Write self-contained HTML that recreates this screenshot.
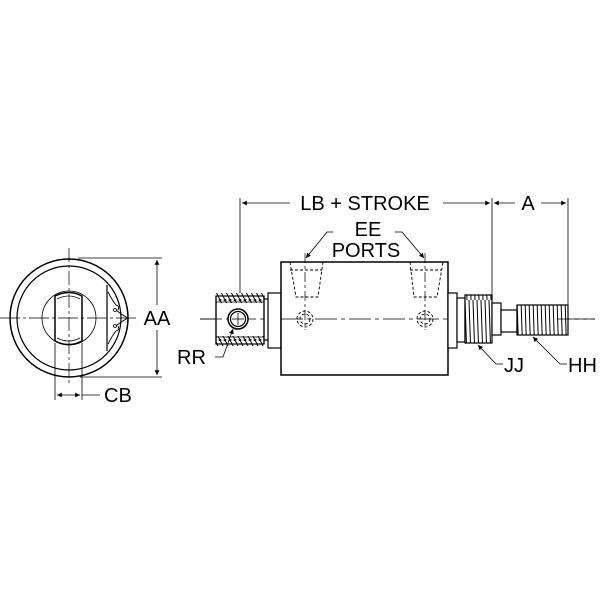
<!DOCTYPE html>
<html><head><meta charset="utf-8"><style>
html,body{margin:0;padding:0;background:#fff;width:600px;height:600px;overflow:hidden}
text{font-family:"Liberation Sans",Arial,sans-serif;fill:#000}
</style></head><body>
<svg width="600" height="600" viewBox="0 0 600 600" xmlns="http://www.w3.org/2000/svg">
<defs>
<pattern id="vth" width="4" height="60" patternUnits="userSpaceOnUse">
<line x1="1" y1="0" x2="3" y2="60" stroke="#000" stroke-width="1"/>
</pattern>
<pattern id="hth" width="5" height="10" patternUnits="userSpaceOnUse">
<line x1="0.5" y1="1" x2="4.5" y2="9" stroke="#000" stroke-width="0.9"/>
<path d="M0,1 Q2.5,-2 5,1 M0,9 Q2.5,12 5,9" fill="none" stroke="#000" stroke-width="0.9"/>
</pattern>
<marker id="ar" viewBox="0 0 10 10" refX="10" refY="5" markerWidth="8" markerHeight="6" orient="auto-start-reverse">
<path d="M0,0 L10,5 L0,10 z" fill="#000"/></marker>
</defs>
<g fill="none" stroke="#000" stroke-width="1.2">
<!-- END VIEW -->
<circle cx="69" cy="318" r="59" stroke-width="1.5"/>
<circle cx="69" cy="318" r="52"/>
<circle cx="69" cy="318" r="27" stroke-width="0.8"/>
<path d="M55,296 Q69,289 82,296 L82,341 Q69,348 55,341 Z" stroke-width="1.5"/>
<path d="M57,299 Q69,293 80,299 M57,338 Q69,344 80,338" stroke-width="0.8"/>
<path d="M107,285 L107,351" />
<path d="M108,292 Q112,300 116,305 Q120,306 118,310 M108,344 Q112,336 116,331 Q120,330 118,326 M116,310 Q122,315 128,318 M116,326 Q122,321 128,318" stroke-width="0.9"/>
<circle cx="115" cy="310" r="1.5" stroke-width="0.8"/><circle cx="115" cy="326" r="1.5" stroke-width="0.8"/>
<line x1="69" y1="248" x2="69" y2="385" stroke-width="0.7" stroke-dasharray="14,3,3,3"/>
<line x1="0" y1="318" x2="138" y2="318" stroke-width="0.7" stroke-dasharray="20,3,3,3"/>
<line x1="78" y1="258" x2="162" y2="258" stroke-width="0.8"/>
<line x1="80" y1="377" x2="162" y2="377" stroke-width="0.8"/>
<line x1="157" y1="260" x2="157" y2="305" stroke-width="0.8" marker-start="url(#ar)"/>
<line x1="157" y1="330" x2="157" y2="375" stroke-width="0.8" marker-end="url(#ar)"/>
<line x1="55" y1="343" x2="55" y2="400" stroke-width="0.8"/>
<line x1="82" y1="343" x2="82" y2="400" stroke-width="0.8"/>
<line x1="57" y1="395" x2="80" y2="395" stroke-width="0.8" marker-start="url(#ar)" marker-end="url(#ar)"/>
<line x1="82" y1="395" x2="100" y2="395" stroke-width="0.8"/>

<!-- SIDE VIEW centerline -->
<line x1="200" y1="319" x2="595" y2="319" stroke-width="0.7" stroke-dasharray="22,4,4,4"/>
<!-- left rod end -->
<rect x="216" y="296" width="48" height="48" fill="#fff"/>
<rect x="216" y="293" width="48" height="10" fill="url(#hth)" stroke="none"/>
<rect x="216" y="336" width="48" height="10" fill="url(#hth)" stroke="none"/>
<line x1="216" y1="296" x2="216" y2="344"/>
<line x1="264" y1="296" x2="264" y2="344"/>
<line x1="216" y1="302" x2="264" y2="302" stroke-width="0.8"/>
<line x1="216" y1="337" x2="264" y2="337" stroke-width="0.8"/>
<line x1="200" y1="319" x2="264" y2="319" stroke-width="0.7" stroke-dasharray="22,4,4,4"/>
<circle cx="238" cy="319" r="10" fill="#fff" stroke-width="1.5"/>
<circle cx="238" cy="319" r="7.5"/>
<line x1="238" y1="313" x2="238" y2="325" stroke-width="0.8"/><line x1="232" y1="319" x2="244" y2="319" stroke-width="0.8"/>
<rect x="268" y="293" width="13" height="55" fill="#fff"/>
<line x1="264" y1="299" x2="268" y2="299"/><line x1="264" y1="340" x2="268" y2="340"/>
<!-- body -->
<rect x="281" y="262" width="167" height="113" fill="#fff" stroke-width="1.5"/>
<line x1="281" y1="319" x2="448" y2="319" stroke-width="0.7" stroke-dasharray="22,4,4,4"/>
<g stroke-dasharray="3,2" stroke-width="0.9">
<path d="M290,262 L296,297 L318,297 L323,262"/>
<path d="M290,270 L322,270"/>
<path d="M410,262 L414,297 L437,297 L443,262"/>
<path d="M410,270 L442,270"/>
<circle cx="305" cy="319" r="8"/><circle cx="305" cy="319" r="5"/>
<circle cx="425" cy="319" r="8"/><circle cx="425" cy="319" r="5"/>
</g>
<line x1="305" y1="253" x2="305" y2="330" stroke-width="0.7" stroke-dasharray="10,3,3,3"/>
<line x1="425" y1="253" x2="425" y2="330" stroke-width="0.7" stroke-dasharray="10,3,3,3"/>
<!-- right rod end -->
<rect x="448" y="293" width="9" height="55" fill="#fff"/>
<rect x="457" y="298" width="8" height="44" fill="#fff"/>
<rect x="465" y="295" width="27" height="48" fill="#fff"/>
<rect x="465" y="295" width="27" height="48" fill="url(#vth)" stroke="none"/>
<rect x="492" y="303" width="9" height="32" fill="#fff"/>
<rect x="501" y="310" width="16" height="22" fill="#fff"/>
<rect x="517" y="305" width="51" height="30" fill="#fff"/>
<rect x="517" y="305" width="51" height="30" fill="url(#vth)" stroke="none"/>
<line x1="557" y1="319" x2="595" y2="319" stroke-width="0.7" stroke-dasharray="22,4,4,4"/>
<!-- dimensions -->
<line x1="240" y1="198" x2="240" y2="293" stroke-width="0.8"/>
<line x1="492" y1="198" x2="492" y2="295" stroke-width="0.8"/>
<line x1="568" y1="198" x2="568" y2="305" stroke-width="0.8"/>
<line x1="242" y1="203" x2="290" y2="203" stroke-width="0.8" marker-start="url(#ar)"/>
<line x1="443" y1="203" x2="490" y2="203" stroke-width="0.8" marker-end="url(#ar)"/>
<line x1="494" y1="203" x2="515" y2="203" stroke-width="0.8" marker-start="url(#ar)"/>
<line x1="541" y1="203" x2="566" y2="203" stroke-width="0.8" marker-end="url(#ar)"/>
<!-- leaders -->
<path d="M333,232 L327,232 L306,258" stroke-width="0.8" marker-end="url(#ar)"/>
<path d="M395,232 L402,232 L424,258" stroke-width="0.8" marker-end="url(#ar)"/>
<path d="M215,357 L223,357 L233,329" stroke-width="0.8" marker-end="url(#ar)"/>
<path d="M503,364 L496,364 L478,345" stroke-width="0.8" marker-end="url(#ar)"/>
<path d="M567,364 L560,364 L533,337" stroke-width="0.8" marker-end="url(#ar)"/>
</g>
<g font-size="20">
<text x="365" y="210" text-anchor="middle">LB + STROKE</text>
<text x="528" y="210" text-anchor="middle">A</text>
<text x="368" y="236" text-anchor="middle">EE</text>
<text x="366" y="257" text-anchor="middle">PORTS</text>
<text x="157" y="325" text-anchor="middle" fill="#000" stroke="#fff" stroke-width="6" paint-order="stroke">AA</text>
<text x="104" y="402">CB</text>
<text x="177" y="364">RR</text>
<text x="504" y="372">JJ</text>
<text x="568" y="372">HH</text>
</g>
</svg>
</body></html>
